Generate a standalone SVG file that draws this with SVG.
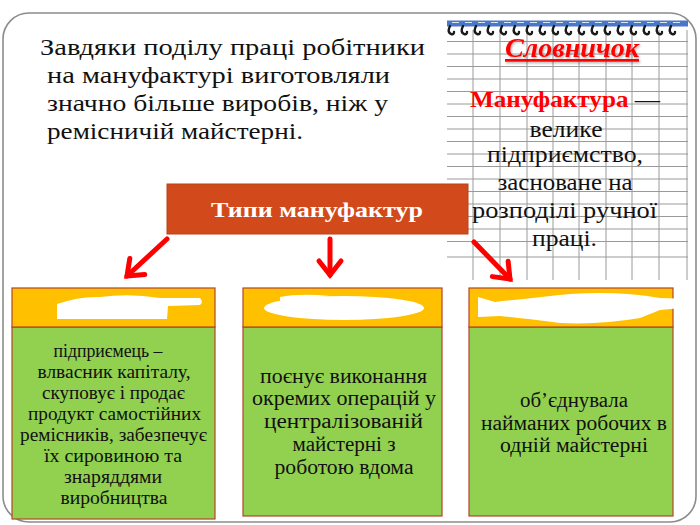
<svg xmlns="http://www.w3.org/2000/svg" width="700" height="525" viewBox="0 0 700 525">
<defs>
<style>
.grid{stroke:#9a9a9a;stroke-width:1;}
.arrow{stroke:#ff0000;stroke-width:5;fill:none;stroke-linecap:round;}
.hdr{fill:#ffc000;stroke:#b5452a;stroke-width:1.2;}
.body{fill:#92d050;stroke:#b5452a;stroke-width:1.2;}
.scrib{fill:#ffffff;}
</style>
<marker id="head" markerUnits="userSpaceOnUse" markerWidth="40" markerHeight="40" refX="20" refY="20" orient="auto" viewBox="0 0 40 40">
<path d="M6,9 L20,20 L6,31" fill="none" stroke="#ff0000" stroke-width="5" stroke-linecap="round" stroke-linejoin="miter"/>
</marker>
<filter id="sh" x="-10%" y="-10%" width="120%" height="130%">
<feDropShadow dx="1" dy="1.5" stdDeviation="1" flood-color="#000" flood-opacity="0.3"/>
</filter>
</defs>
<rect width="700" height="525" fill="#ffffff"/>
<g id="frame">
<rect x="3" y="13" width="693" height="509" rx="26" ry="26" fill="none" stroke="#8c8c8c" stroke-width="1.6"/>
</g>
<g id="notebook">
<g class="grid">
<line x1="473" y1="30" x2="473" y2="280"/>
<line x1="500" y1="30" x2="500" y2="280"/>
<line x1="527" y1="30" x2="527" y2="280"/>
<line x1="553" y1="30" x2="553" y2="280"/>
<line x1="579" y1="30" x2="579" y2="280"/>
<line x1="606" y1="30" x2="606" y2="280"/>
<line x1="632" y1="30" x2="632" y2="280"/>
<line x1="659" y1="30" x2="659" y2="280"/>
<line x1="687" y1="30" x2="687" y2="280"/>
<line x1="447" y1="41.5" x2="688" y2="41.5"/>
<line x1="447" y1="54" x2="688" y2="54"/>
<line x1="447" y1="66.5" x2="688" y2="66.5"/>
<line x1="447" y1="79" x2="688" y2="79"/>
<line x1="447" y1="91.5" x2="688" y2="91.5"/>
<line x1="447" y1="104" x2="688" y2="104"/>
<line x1="447" y1="116.5" x2="688" y2="116.5"/>
<line x1="447" y1="129" x2="688" y2="129"/>
<line x1="447" y1="141.5" x2="688" y2="141.5"/>
<line x1="447" y1="154" x2="688" y2="154"/>
<line x1="447" y1="166.5" x2="688" y2="166.5"/>
<line x1="447" y1="179" x2="688" y2="179"/>
<line x1="447" y1="191.5" x2="688" y2="191.5"/>
<line x1="447" y1="204" x2="688" y2="204"/>
<line x1="447" y1="216.5" x2="688" y2="216.5"/>
<line x1="447" y1="229" x2="688" y2="229"/>
<line x1="447" y1="241.5" x2="688" y2="241.5"/>
<line x1="447" y1="257" x2="688" y2="257"/>
</g>
<rect x="447" y="20.5" width="241" height="6" fill="#4a78c8"/>
<path d="M450,26 q-3,6 1,8 q3,1 3,-2 M463,26 q-3,6 1,8 q3,1 3,-2 M476,26 q-3,6 1,8 q3,1 3,-2 M489,26 q-3,6 1,8 q3,1 3,-2 M502,26 q-3,6 1,8 q3,1 3,-2 M515,26 q-3,6 1,8 q3,1 3,-2 M528,26 q-3,6 1,8 q3,1 3,-2 M541,26 q-3,6 1,8 q3,1 3,-2 M554,26 q-3,6 1,8 q3,1 3,-2 M567,26 q-3,6 1,8 q3,1 3,-2 M580,26 q-3,6 1,8 q3,1 3,-2 M593,26 q-3,6 1,8 q3,1 3,-2 M606,26 q-3,6 1,8 q3,1 3,-2 M619,26 q-3,6 1,8 q3,1 3,-2 M632,26 q-3,6 1,8 q3,1 3,-2 M645,26 q-3,6 1,8 q3,1 3,-2 M658,26 q-3,6 1,8 q3,1 3,-2 M671,26 q-3,6 1,8 q3,1 3,-2" fill="none" stroke="#1a1a1a" stroke-width="2.4" stroke-linecap="round"/>
<path d="M452,22.5 h7 M465,22.5 h7 M478,22.5 h7 M491,22.5 h7 M504,22.5 h7 M517,22.5 h7 M530,22.5 h7 M543,22.5 h7 M556,22.5 h7 M569,22.5 h7 M582,22.5 h7 M595,22.5 h7 M608,22.5 h7 M621,22.5 h7 M634,22.5 h7 M647,22.5 h7 M660,22.5 h7 M673,22.5 h7" stroke="#ffffff" stroke-width="1" opacity="0.8"/>
<text x="572" y="57" font-family="'Liberation Serif', serif" font-size="27" font-style="italic" font-weight="bold" fill="#ff0000" text-anchor="middle" text-decoration="underline" filter="url(#sh)" textLength="134" lengthAdjust="spacingAndGlyphs">Словничок</text>
<g font-family="'Liberation Serif', serif" font-size="23" text-anchor="middle" fill="#111" lengthAdjust="spacingAndGlyphs">
<text x="565" y="107" textLength="190" lengthAdjust="spacingAndGlyphs"><tspan fill="#ff0000" font-weight="bold">Мануфактура</tspan> —</text>
<text x="566" y="137" textLength="73" lengthAdjust="spacingAndGlyphs">велике</text>
<text x="565" y="162" textLength="156" lengthAdjust="spacingAndGlyphs">підприємство,</text>
<text x="565" y="190" textLength="135" lengthAdjust="spacingAndGlyphs">засноване на</text>
<text x="564.5" y="218" textLength="185" lengthAdjust="spacingAndGlyphs">розподілі ручної</text>
<text x="564.5" y="246" textLength="65" lengthAdjust="spacingAndGlyphs">праці.</text>
</g>
</g>
<g id="intro" font-family="'Liberation Serif', serif" font-size="23" fill="#111">
<text x="40" y="55" textLength="385" lengthAdjust="spacingAndGlyphs">Завдяки поділу праці робітники</text>
<text x="47" y="83" textLength="343" lengthAdjust="spacingAndGlyphs">на мануфактурі виготовляли</text>
<text x="47" y="111" textLength="341" lengthAdjust="spacingAndGlyphs">значно більше виробів, ніж у</text>
<text x="47" y="139" textLength="256" lengthAdjust="spacingAndGlyphs">ремісничій майстерні.</text>
</g>
<g id="types">
<rect x="167" y="184" width="301" height="50" fill="#d24a1b" stroke="#b8421a" stroke-width="1"/>
<text x="317" y="217" font-family="'Liberation Serif', serif" font-size="22" font-weight="bold" fill="#ffffff" text-anchor="middle" textLength="212" lengthAdjust="spacingAndGlyphs">Типи мануфактур</text>
</g>
<g id="connectors">
<line class="arrow" x1="167" y1="239" x2="127" y2="276" marker-end="url(#head)"/>
<line class="arrow" x1="330" y1="239" x2="330" y2="275" marker-end="url(#head)"/>
<line class="arrow" x1="474" y1="242" x2="510" y2="279" marker-end="url(#head)"/>
</g>
<g id="box1">
<rect class="body" x="12" y="327" width="203" height="192"/>
<rect class="hdr" x="12" y="288" width="203" height="39"/>
<path class="scrib" d="M57,299 L57,304 Q80,296 100,297 Q130,293 160,298 L200,298 Q204,302 200,305 L168,306 L167,319 L57,319 Z"/>
<g font-family="'Liberation Serif', serif" font-size="19" fill="#111" text-anchor="middle">
<text x="108" y="357" textLength="109" lengthAdjust="spacingAndGlyphs">підприємець –</text>
<text x="114" y="378" textLength="153" lengthAdjust="spacingAndGlyphs">влвасник капіталу,</text>
<text x="113.5" y="399" textLength="143" lengthAdjust="spacingAndGlyphs">скуповує і продає</text>
<text x="114.5" y="420" textLength="173" lengthAdjust="spacingAndGlyphs">продукт самостійних</text>
<text x="113.5" y="441" textLength="187" lengthAdjust="spacingAndGlyphs">ремісників, забезпечує</text>
<text x="113" y="462" textLength="138" lengthAdjust="spacingAndGlyphs">їх сировиною та</text>
<text x="113" y="483" textLength="98" lengthAdjust="spacingAndGlyphs">знаряддями</text>
<text x="114" y="504" textLength="107" lengthAdjust="spacingAndGlyphs">виробництва</text>
</g>
</g>
<g id="box2">
<rect class="body" x="243" y="327" width="199" height="189"/>
<rect class="hdr" x="243" y="288" width="199" height="39"/>
<ellipse class="scrib" cx="344" cy="308" rx="80" ry="12"/>
<path class="scrib" d="M280,297 Q300,293 330,296 Q300,300 280,301 Z"/>
<g font-family="'Liberation Serif', serif" font-size="20" fill="#111" text-anchor="middle">
<text x="343.5" y="383" textLength="167" lengthAdjust="spacingAndGlyphs">поєнує виконання</text>
<text x="344" y="405" textLength="184" lengthAdjust="spacingAndGlyphs">окремих операцій у</text>
<text x="343.5" y="428" textLength="159" lengthAdjust="spacingAndGlyphs">централізованій</text>
<text x="344" y="451" textLength="103" lengthAdjust="spacingAndGlyphs">майстерні з</text>
<text x="344" y="474" textLength="139" lengthAdjust="spacingAndGlyphs">роботою вдома</text>
</g>
</g>
<g id="box3">
<rect class="body" x="469" y="327" width="204" height="189"/>
<rect class="hdr" x="469" y="288" width="204" height="39"/>
<path class="scrib" d="M478,297 L495,302 Q540,297 570,294 Q620,291 660,298 L693,299 Q697,303 692,307 L660,310 L640,318 Q600,325 560,323 Q520,318 500,316 L478,317 Z"/>
<g font-family="'Liberation Serif', serif" font-size="20" fill="#111" text-anchor="middle">
<text x="574" y="407" textLength="108" lengthAdjust="spacingAndGlyphs">об’єднувала</text>
<text x="574" y="430" textLength="186" lengthAdjust="spacingAndGlyphs">найманих робочих в</text>
<text x="574" y="452" textLength="148" lengthAdjust="spacingAndGlyphs">одній майстерні</text>
</g>
</g>
</svg>
